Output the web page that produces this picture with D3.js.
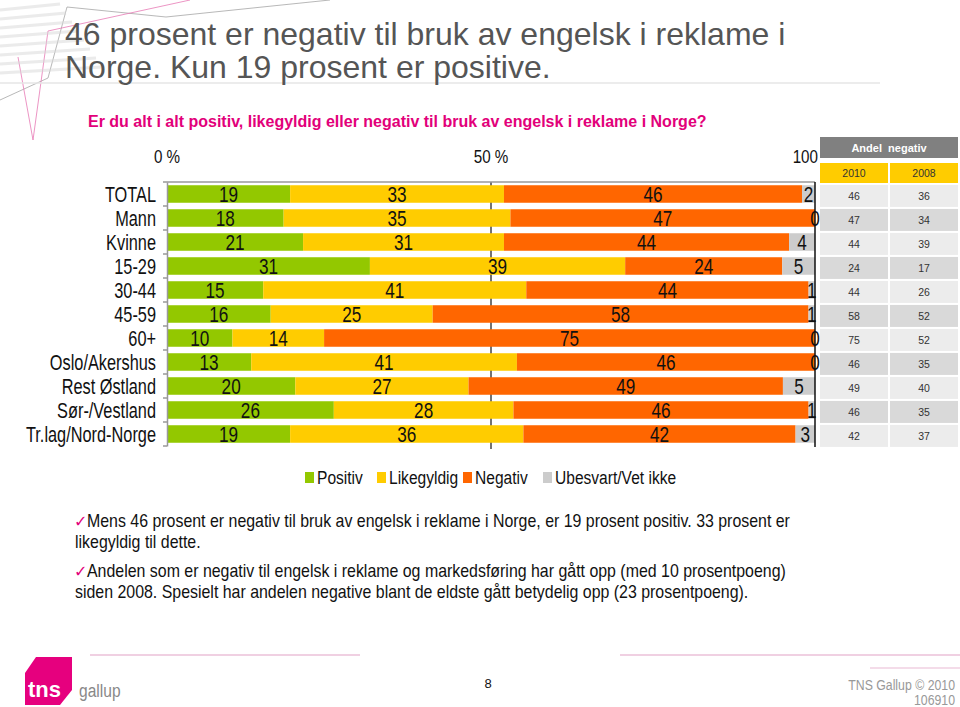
<!DOCTYPE html>
<html><head><meta charset="utf-8">
<script src="https://cdn.jsdelivr.net/npm/d3@7"></script>
<style>body{margin:0;background:#fff;} svg{display:block;}</style>
</head><body>
<svg id="c" width="960" height="707"></svg>
<script>
// ---- data ----
const categories = ["TOTAL","Mann","Kvinne","15-29","30-44","45-59","60+","Oslo/Akershus","Rest Østland","Sør-/Vestland","Tr.lag/Nord-Norge"];
const seriesNames = ["Positiv","Likegyldig","Negativ","Ubesvart/Vet ikke"];
const positiv    = [19,18,21,31,15,16,10,13,20,26,19];
const likegyldig = [33,35,31,39,41,25,14,41,27,28,36];
const negativ    = [46,47,44,24,44,58,75,46,49,46,42];
const ubesvart   = [2,0,4,5,1,1,0,0,5,1,3];
const tableYears = ["2010","2008"];
const negativ2010 = [46,47,44,24,44,58,75,46,49,46,42];
const negativ2008 = [36,34,39,17,26,52,52,35,40,35,37];
const axisTicks = [0,50,100];
const axisTickLabels = ["0 %","50 %","100"];

const colors = ["#93c800","#ffcc00","#ff6600","#cccccc"];
const sans = "'Liberation Sans',Arial,sans-serif";
const SX = 0.82; // horizontal squeeze to mimic Arial Narrow

const svg = d3.select("#c");
const tr = (x,y,s)=>`translate(${x},${y}) scale(${s||SX},1)`;

// ---- decorative background (top-left sketch) ----
const deco = svg.append("g");
deco.append("polyline").attr("points","0,100 48,78 67,7 166,17 330,0").attr("fill","none").attr("stroke","#9a9a9a").attr("stroke-width",1).attr("opacity",0.7);
deco.append("polyline").attr("points","18,57 33,140 48,31 190,0").attr("fill","none").attr("stroke","#e77ab5").attr("stroke-width",1).attr("opacity",0.8);
for (let i=0;i<8;i++){
  deco.append("line").attr("x1",0).attr("x2",60+i*6).attr("y1",10+i*9).attr("y2",4+i*9)
    .attr("stroke","#d8d8d8").attr("stroke-width",3).attr("opacity",0.5);
}
svg.append("line").attr("x1",0).attr("x2",880).attr("y1",83).attr("y2",83).attr("stroke","#e6e6e6").attr("stroke-width",1.5);

// ---- title ----
const title = svg.append("text").attr("x",65).attr("font-family",sans).attr("font-size",32).attr("fill","#555");
title.append("tspan").attr("x",65).attr("y",45).text("46 prosent er negativ til bruk av engelsk i reklame i");
title.append("tspan").attr("x",65).attr("y",78).text("Norge. Kun 19 prosent er positive.");

svg.append("text").attr("x",88).attr("y",127).attr("font-family",sans).attr("font-weight","bold")
  .attr("font-size",16).attr("fill","#e2007a")
  .text("Er du alt i alt positiv, likegyldig eller negativ til bruk av engelsk i reklame i Norge?");

// ---- scales ----
const x0 = 167, x1 = 815;
const x = d3.scaleLinear().domain([0,1]).range([x0,x1]);
const xPct = d3.scaleLinear().domain([0,100]).range([x0,x1]);
const y = d3.scaleBand().domain(categories).range([182,446]).paddingInner(0.27).paddingOuter(0.135);

const rows = categories.map((c,i)=>({cat:c,"Positiv":positiv[i],"Likegyldig":likegyldig[i],"Negativ":negativ[i],"Ubesvart/Vet ikke":ubesvart[i]}));
const stack = d3.stack().keys(seriesNames).offset(d3.stackOffsetExpand);
const series = stack(rows);

// axis lines / gridline
svg.append("line").attr("x1",xPct(50)).attr("x2",xPct(50)).attr("y1",182).attr("y2",449).attr("stroke","#444").attr("stroke-width",1.5);
svg.append("line").attr("x1",x0).attr("x2",x1).attr("y1",182).attr("y2",182).attr("stroke","#999").attr("stroke-width",1.5);

// bars
const g = svg.append("g");
series.forEach((s,si)=>{
  g.selectAll(null).data(s).enter().append("rect")
    .attr("x",d=>x(d[0])).attr("width",d=>Math.max(0,x(d[1])-x(d[0])))
    .attr("y",d=>y(d.data.cat)).attr("height",y.bandwidth())
    .attr("fill",colors[si]);
});
// right axis at 100
svg.append("line").attr("x1",x1).attr("x2",x1).attr("y1",182).attr("y2",447).attr("stroke","#111").attr("stroke-width",1.5);
// left axis
const leftAxis = d3.axisLeft(y).tickSize(0).tickFormat("");
const la = svg.append("g").attr("transform",`translate(${x0},0)`).call(leftAxis);
la.select(".domain").attr("stroke","#999").attr("stroke-width",1.5);
svg.selectAll(null).data(d3.range(categories.length+1)).enter().append("line")
  .attr("x1",x0-4).attr("x2",x0).attr("y1",i=>182+i*y.step()).attr("y2",i=>182+i*y.step())
  .attr("stroke","#999").attr("stroke-width",1.5);

// value labels
series.forEach((s,si)=>{
  g.selectAll(null).data(s).enter().append("text")
    .attr("transform",d=>tr((x(d[0])+x(d[1]))/2, y(d.data.cat)+y.bandwidth()/2+8, 0.78))
    .attr("text-anchor","middle").attr("font-family",sans).attr("font-size",22).attr("fill","#111")
    .text(d=>d.data[seriesNames[si]]);
});

// category labels
svg.selectAll(null).data(categories).enter().append("text")
  .attr("transform",c=>tr(156, y(c)+y.bandwidth()/2+7.5, 0.76)).attr("text-anchor","end")
  .attr("font-family",sans).attr("font-size",21.5).attr("fill","#111").text(c=>c);

// top tick labels
svg.selectAll(null).data(axisTicks).enter().append("text")
  .attr("transform",(t,i)=> tr(i===2 ? xPct(t)+3 : xPct(t), 163, 0.8))
  .attr("text-anchor",(t,i)=> i===2 ? "end" : "middle")
  .attr("font-family",sans).attr("font-size",19).attr("fill","#111")
  .text((t,i)=>axisTickLabels[i]);

// ---- table ----
const tX = [820,890], tW = 68;
svg.append("rect").attr("x",820).attr("y",137).attr("width",138).attr("height",21).attr("fill","#808080");
svg.append("text").attr("x",889).attr("y",152).attr("text-anchor","middle").attr("font-family",sans)
  .attr("font-weight","bold").attr("font-size",11).attr("fill","#fff").attr("xml:space","preserve").text("Andel  negativ");
tableYears.forEach((yr,i)=>{
  svg.append("rect").attr("x",tX[i]).attr("y",163).attr("width",tW).attr("height",20).attr("fill","#ffcc00");
  svg.append("text").attr("x",tX[i]+tW/2).attr("y",177).attr("text-anchor","middle").attr("font-family",sans)
    .attr("font-size",10.5).attr("fill","#333").text(yr);
});
[negativ2010,negativ2008].forEach((col,ci)=>{
  svg.selectAll(null).data(categories).enter().append("rect")
    .attr("x",tX[ci]).attr("y",c=>y(c)-0.3).attr("width",tW).attr("height",22)
    .attr("fill",(c,i)=> i%2===0 ? "#ececec" : "#d9d9d9");
  svg.selectAll(null).data(categories).enter().append("text")
    .attr("x",tX[ci]+tW/2).attr("y",c=>y(c)+15).attr("text-anchor","middle")
    .attr("font-family",sans).attr("font-size",10.5).attr("fill","#333")
    .text((c,i)=>col[i]);
});

// ---- legend ----
const legX = [305,377,463,543];
seriesNames.forEach((n,i)=>{
  svg.append("rect").attr("x",legX[i]).attr("y",472).attr("width",9).attr("height",11).attr("fill",colors[i]);
  svg.append("text").attr("transform",tr(legX[i]+12,484)).attr("font-family",sans).attr("font-size",19)
    .attr("fill","#111").text(n);
});

// ---- bullets ----
const bullets = [
  {y:527, lines:["Mens 46 prosent er negativ til bruk av engelsk i reklame i Norge, er 19 prosent positiv. 33 prosent er","likegyldig til dette."]},
  {y:577, lines:["Andelen som er negativ til engelsk i reklame og markedsføring har gått opp (med 10 prosentpoeng)","siden 2008. Spesielt har andelen negative blant de eldste gått betydelig opp (23 prosentpoeng)."]}
];
bullets.forEach(b=>{
  svg.append("text").attr("x",74).attr("y",b.y).attr("font-family","'DejaVu Sans',sans-serif").attr("font-size",16).attr("fill","#e2007a").text("✓");
  b.lines.forEach((l,li)=>{
    svg.append("text").attr("transform",tr(li===0?87:75, b.y+li*21, 0.91)).attr("font-family",sans)
      .attr("font-size",17.5).attr("fill","#111").text(l);
  });
});

// ---- footer ----
const fl = svg.append("g");
fl.append("line").attr("x1",90).attr("x2",360).attr("y1",655).attr("y2",655).attr("stroke","#f0d0e2").attr("stroke-width",2);
fl.append("line").attr("x1",620).attr("x2",960).attr("y1",655).attr("y2",655).attr("stroke","#f0d0e2").attr("stroke-width",2);
fl.append("line").attr("x1",870).attr("x2",960).attr("y1",668).attr("y2",668).attr("stroke","#f0d0e2").attr("stroke-width",1.5);
fl.append("path").attr("d","M36,657 L72,657 L72,690 L60,705 L25,705 L25,673 Z").attr("fill","#e6007e");
fl.append("text").attr("x",28).attr("y",697).attr("font-family",sans).attr("font-weight","bold").attr("font-size",22).attr("fill","#fff").text("tns");
fl.append("text").attr("transform",tr(79,697)).attr("font-family",sans).attr("font-size",19).attr("fill","#888").text("gallup");
fl.append("text").attr("x",488).attr("y",688).attr("text-anchor","middle").attr("font-family",sans).attr("font-size",13).attr("fill","#111").text("8");
fl.append("text").attr("transform",tr(955,690)).attr("text-anchor","end").attr("font-family",sans).attr("font-size",15).attr("fill","#999").text("TNS Gallup © 2010");
fl.append("text").attr("transform",tr(955,705)).attr("text-anchor","end").attr("font-family",sans).attr("font-size",15).attr("fill","#999").text("106910");
</script>
</body></html>
